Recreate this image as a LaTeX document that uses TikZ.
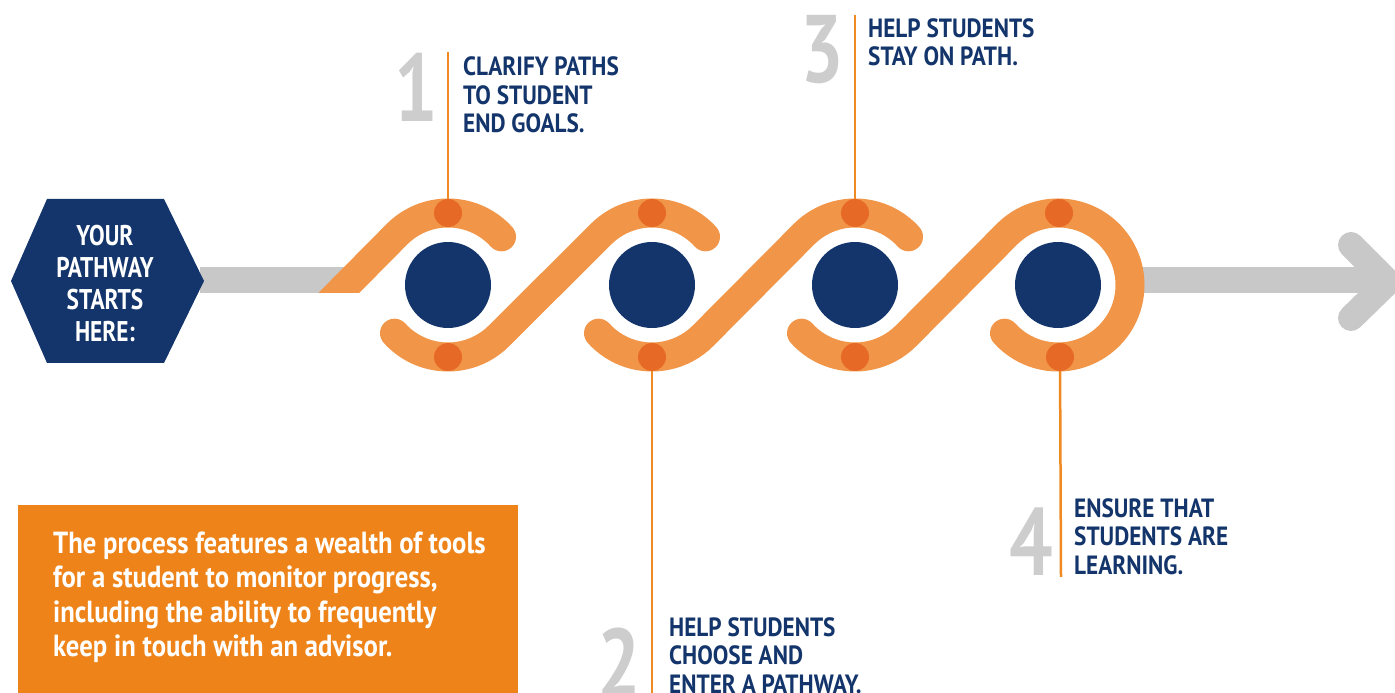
\documentclass[tikz,border=0pt]{standalone}
\usepackage{fontspec}
\setmainfont{PT Sans}
\newfontfamily\condfont[FakeStretch=0.88]{PT Sans}
\newfontfamily\hexfont[FakeStretch=0.82]{PT Sans}
\newfontfamily\boxfont[FakeStretch=0.875]{PT Sans}
\newfontfamily\digitfont[FakeStretch=0.8]{PT Sans}
\definecolor{navy}{HTML}{13356B}
\definecolor{bandorange}{HTML}{F19549}
\definecolor{dotorange}{HTML}{E66A25}
\definecolor{leadorange}{HTML}{EF8A22}
\definecolor{boxorange}{HTML}{EE8419}
\definecolor{bargray}{HTML}{C8C8C8}
\definecolor{digitgray}{HTML}{CDCDCD}
\begin{document}
\begin{tikzpicture}[x=1pt,y=1pt,
  band/.style={draw=bandorange, line width=29pt, line cap=round},
  hub/.style={circle, fill=navy, minimum size=86pt, inner sep=0pt},
  dotnode/.style={circle, fill=dotorange, minimum size=28pt, inner sep=0pt},
  lead/.style={draw=leadorange, line width=2.5pt},
  steptext/.style={anchor=north west, inner sep=0pt, text=navy, align=left,
    font=\condfont\bfseries\fontsize{26.4}{28.5}\selectfont},
  digit/.style={inner sep=0pt, text=digitgray,
    font=\digitfont\bfseries\fontsize{96}{96}\selectfont},
  hextext/.style={inner sep=0pt, text=white, align=center,
    font=\hexfont\bfseries\fontsize{28.5}{32.3}\selectfont},
  boxtext/.style={anchor=north west, inner sep=0pt, text=white, align=left,
    font=\boxfont\bfseries\fontsize{30.5}{34.5}\selectfont}]
\useasboundingbox (0,0) rectangle (1395,693);
\clip (0,0) rectangle (1395,693);

% gray bars and arrow head
\fill[bargray] (200,400) rectangle (350,426);
\fill[bargray] (1132,400) rectangle (1385,426);
\draw[bargray, line width=26pt, line cap=round, line join=miter]
  (1351,448) -- (1388,411) -- (1351,375);

% orange wave band
\begin{scope}
  \clip (0,400) rectangle (1395,693);
  \draw[band] (318,379) -- ([shift={(135:72)}]448,408)
    arc[start angle=135, end angle=42, radius=72];
\end{scope}
\draw[band] ([shift={(222:72)}]448,408) arc[start angle=222, end angle=315, radius=72]
  -- ([shift={(135:72)}]652,408) arc[start angle=135, end angle=42, radius=72];
\draw[band] ([shift={(222:72)}]652,408) arc[start angle=222, end angle=315, radius=72]
  -- ([shift={(135:72)}]855,408) arc[start angle=135, end angle=42, radius=72];
\draw[band] ([shift={(222:72)}]855,408) arc[start angle=222, end angle=315, radius=72]
  -- ([shift={(135:72)}]1058,408) arc[start angle=135, end angle=-138, radius=72];

% hubs
\node[hub] (h1) at (448,408) {};
\node[hub] (h2) at (652,408) {};
\node[hub] (h3) at (855,408) {};
\node[hub] (h4) at (1058,408) {};

% dots
\node[dotnode] (d1t) at (448,480) {};
\node[dotnode] (d1b) at (448,336) {};
\node[dotnode] (d2t) at (652,480) {};
\node[dotnode] (d2b) at (652,336) {};
\node[dotnode] (d3t) at (855,480) {};
\node[dotnode] (d3b) at (855,336) {};
\node[dotnode] (d4t) at (1059,480) {};
\node[dotnode] (d4b) at (1060,336) {};

% leader lines
\coordinate (l1) at (448,641);
\coordinate (l2) at (652,-2);
\coordinate (l3) at (855,678);
\coordinate (l4) at (1061,116);
\draw[lead] (l1) -- (d1t);
\draw[lead] (d2b) -- (l2);
\draw[lead] (l3) -- (d3t);
\draw[lead] (d4b) -- (l4);

% hexagon
\fill[navy] (11,412) -- (47,494) -- (164,494) -- (204,412) -- (164,330) -- (47,330) -- cycle;
\node[hextext] (start) at (105,409.5) {YOUR\\PATHWAY\\STARTS\\HERE:};

% digits
\node[digit, anchor=north east] (n1) at (438,640) {1};
\node[digit, anchor=north east] (n2) at (641,65) {2};
\node[digit, anchor=north east] (n3) at (844,678) {3};
\node[digit, anchor=north east] (n4) at (1053,185) {4};

% step texts
\node[steptext] (s1) at (463,636.5) {CLARIFY PATHS\\TO STUDENT\\END GOALS.};
\node[steptext] (s2) at (669,76) {HELP STUDENTS\\CHOOSE AND\\ENTER A PATHWAY.};
\node[steptext] (s3) at (868,675) {HELP STUDENTS\\STAY ON PATH.};
\node[steptext] (s4) at (1074,195) {ENSURE THAT\\STUDENTS ARE\\LEARNING.};

% info box
\fill[boxorange] (18,-2) rectangle (518,188);
\node[boxtext] (info) at (53,161.3) {The process features a wealth of tools\\for a student to monitor progress,\\including the ability to frequently\\keep in touch with an advisor.};
\end{tikzpicture}
\end{document}
